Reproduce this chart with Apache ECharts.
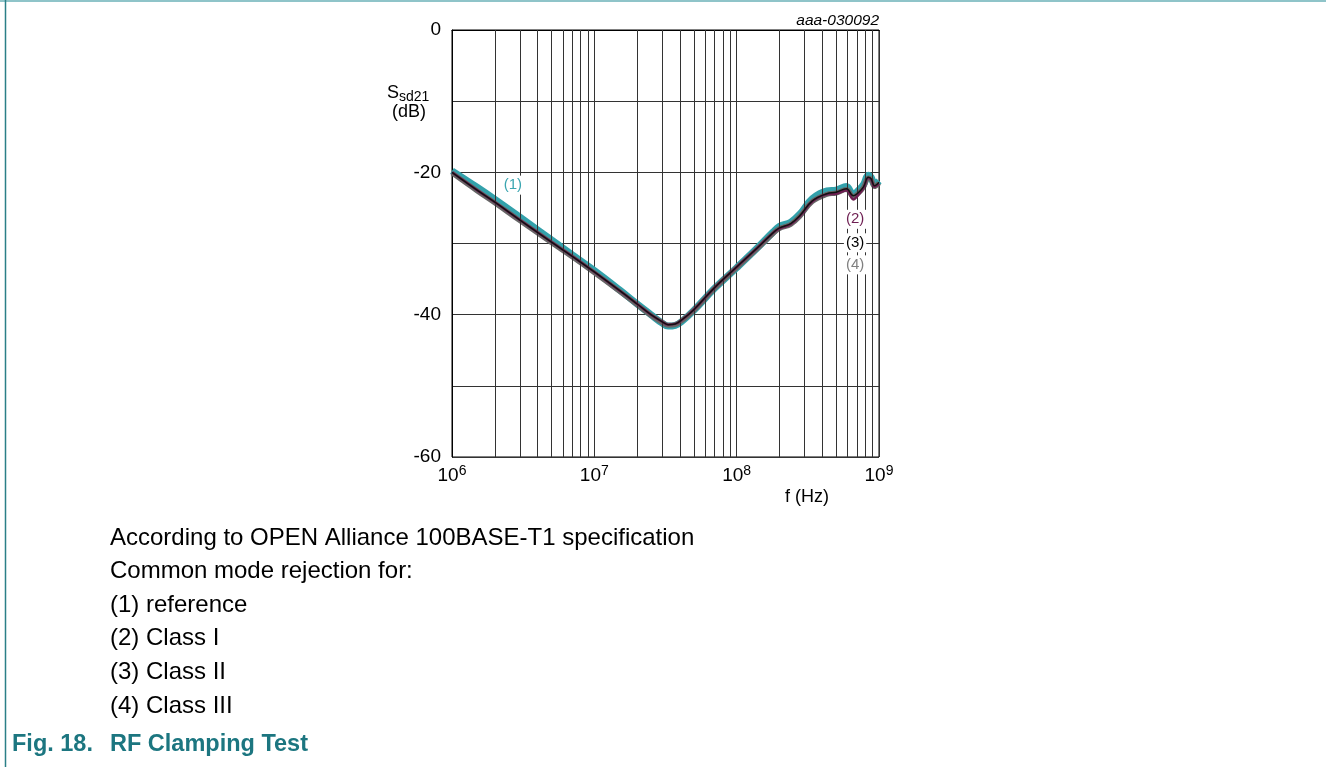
<!DOCTYPE html>
<html><head><meta charset="utf-8">
<script src="https://cdn.jsdelivr.net/npm/echarts@6/dist/echarts.min.js"></script>
<style>html,body{margin:0;padding:0;background:#fff}#c{width:1326px;height:767px}</style>
</head><body><div id="c"></div>
<script>
const freqs = [1e6,1.5e6,2e6,3e6,5e6,7e6,1e7,1.5e7,2e7,2.5e7,3e7,3.3e7,3.7e7,4.2e7,5e7,7e7,1e8,1.4e8,1.8e8,2e8,2.4e8,2.8e8,3.4e8,4.3e8,5e8,5.9e8,6.6e8,7.2e8,7.8e8,8.4e8,8.8e8,9.3e8,1e9];
const sRef    = [-19.8,-22.1,-23.8,-26.3,-29.5,-31.6,-33.8,-36.5,-38.5,-40.0,-41.2,-41.6,-41.5,-40.8,-39.4,-36.3,-33.4,-30.6,-28.4,-27.6,-27.0,-25.8,-23.7,-22.6,-22.5,-22.0,-23.1,-22.5,-21.7,-20.4,-20.7,-21.7,-21.2];
const sClass1 = [-20.0,-22.5,-24.2,-26.7,-29.8,-31.8,-34.0,-36.6,-38.5,-40.0,-41.0,-41.4,-41.3,-40.6,-39.3,-36.2,-33.3,-30.6,-28.5,-27.9,-27.3,-26.1,-24.1,-23.1,-23.0,-22.5,-23.8,-23.1,-22.2,-20.8,-21.0,-22.0,-21.6];
const sClass2 = [-20.0,-22.5,-24.2,-26.7,-29.8,-31.8,-34.0,-36.6,-38.5,-40.0,-41.0,-41.4,-41.3,-40.6,-39.3,-36.2,-33.3,-30.6,-28.5,-27.8,-27.2,-26.0,-24.0,-23.0,-22.8,-22.3,-23.3,-22.8,-22.0,-20.7,-20.9,-21.9,-21.4];
const sClass3 = [-20.1,-22.6,-24.3,-26.8,-29.9,-31.9,-34.1,-36.7,-38.6,-40.1,-41.1,-41.5,-41.4,-40.7,-39.4,-36.3,-33.4,-30.7,-28.6,-27.9,-27.3,-26.1,-24.1,-23.1,-22.9,-22.4,-23.4,-22.9,-22.1,-20.8,-21.0,-22.0,-21.5];
const minorFreqs = [2e6,3e6,4e6,5e6,6e6,7e6,8e6,9e6,2e7,3e7,4e7,5e7,6e7,7e7,8e7,9e7,2e8,3e8,4e8,5e8,6e8,7e8,8e8,9e8];
const seriesNames = ['(1) reference','(2) Class I','(3) Class II','(4) Class III'];
const curveLabels = [
  {text:'(1)', f:2.68e6, v:-21.8, color:'#3aa5b0'},
  {text:'(2)', f:6.79e8, v:-26.6, color:'#6e1f52'},
  {text:'(3)', f:6.79e8, v:-29.9, color:'#000000'},
  {text:'(4)', f:6.79e8, v:-33.0, color:'#808080'}
];
const noteLines = ['According to OPEN Alliance 100BASE-T1 specification','Common mode rejection for:','(1) reference','(2) Class I','(3) Class II','(4) Class III'];

const pts = arr => freqs.map((f,i)=>[f,arr[i]]);
const FONT = '"Liberation Sans", Arial, sans-serif';
const chart = echarts.init(document.getElementById('c'));

const graphics = [
  {type:'line', shape:{x1:0,y1:1,x2:1326,y2:1}, style:{stroke:'#8fc4c9',lineWidth:2}, silent:true},
  {type:'line', shape:{x1:5.5,y1:0,x2:5.5,y2:767}, style:{stroke:'#2b7f87',lineWidth:1.5}, silent:true},
  {type:'text', right:447, top:13, style:{text:'aaa-030092', font:'italic 15.5px '+FONT, fill:'#000', textAlign:'right'}},
  {type:'text', left:387, top:84, style:{text:'{s|S}{b|sd21}', rich:{s:{fontSize:18,fontFamily:FONT,fill:'#000'}, b:{fontSize:14,fontFamily:FONT,fill:'#000',padding:[9,0,0,0]}}}},
  {type:'text', left:392, top:103, style:{text:'(dB)', font:'18px '+FONT, fill:'#000'}},
  {type:'text', left:785, top:488, style:{text:'f (Hz)', font:'18px '+FONT, fill:'#000'}},
  {type:'text', left:12, top:733, style:{text:'Fig. 18.', font:'bold 23.5px '+FONT, fill:'#1c7680'}},
  {type:'text', left:110, top:733, style:{text:'RF Clamping Test', font:'bold 23.5px '+FONT, fill:'#1c7680'}}
];
noteLines.forEach((t,i)=>graphics.push({type:'text', left:110, top:526+i*33.6, style:{text:t, font:'24px '+FONT, fill:'#000'}}));

chart.setOption({
  animation:false,
  grid:{left:452, top:30, width:427, height:427, show:true, borderColor:'#000', borderWidth:1, backgroundColor:'transparent'},
  xAxis:{type:'log', logBase:10, min:1e6, max:1e9,
    axisLine:{show:true,lineStyle:{color:'#000'}}, axisTick:{show:false},
    splitLine:{show:true, lineStyle:{color:'#333',width:1}},
    minorTick:{show:false}, minorSplitLine:{show:false},
    axisLabel:{margin:7, formatter:v=>'{b|10}{s|'+Math.round(Math.log10(v))+'}',
      rich:{b:{fontSize:19,fontFamily:FONT,color:'#000'}, s:{fontSize:14,fontFamily:FONT,color:'#000',padding:[0,0,10,0]}}}},
  yAxis:{type:'value', min:-60, max:0, interval:10,
    axisLine:{show:true,lineStyle:{color:'#000'}}, axisTick:{show:false},
    splitLine:{show:true, lineStyle:{color:'#333',width:1}},
    axisLabel:{margin:11, fontSize:19, fontFamily:FONT, color:'#000', formatter:v=>(v%20===0)?String(v):''}},
  graphic:graphics,
  series:[
    {type:'line', data:[], z:1, silent:true,
      markLine:{silent:true, symbol:['none','none'], label:{show:false}, lineStyle:{color:'#333',width:1,type:'solid'},
        data:minorFreqs.map(f=>({xAxis:f}))}},
    {name:seriesNames[0], type:'line', data:pts(sRef), smooth:0.4, symbol:'none', z:3, lineStyle:{color:'#33a1ab',width:7}},
    {name:seriesNames[3], type:'line', data:pts(sClass3), smooth:0.4, symbol:'none', z:4, lineStyle:{color:'#666',width:5}},
    {name:seriesNames[1], type:'line', data:pts(sClass1), smooth:0.4, symbol:'none', z:5, lineStyle:{color:'#6e1f52',width:2.5}},
    {name:seriesNames[2], type:'line', data:pts(sClass2), smooth:0.4, symbol:'none', z:6, lineStyle:{color:'#111',width:1.5}},
    {type:'line', data:[], z:10, silent:true,
      markPoint:{symbol:'circle', symbolSize:0, silent:true,
        data:curveLabels.map(l=>({coord:[l.f,l.v], label:{show:true, position:'inside', formatter:l.text, color:l.color, fontSize:15, fontFamily:FONT, backgroundColor:'#fff', padding:[2,2]}}))}}
  ]
});
</script></body></html>
